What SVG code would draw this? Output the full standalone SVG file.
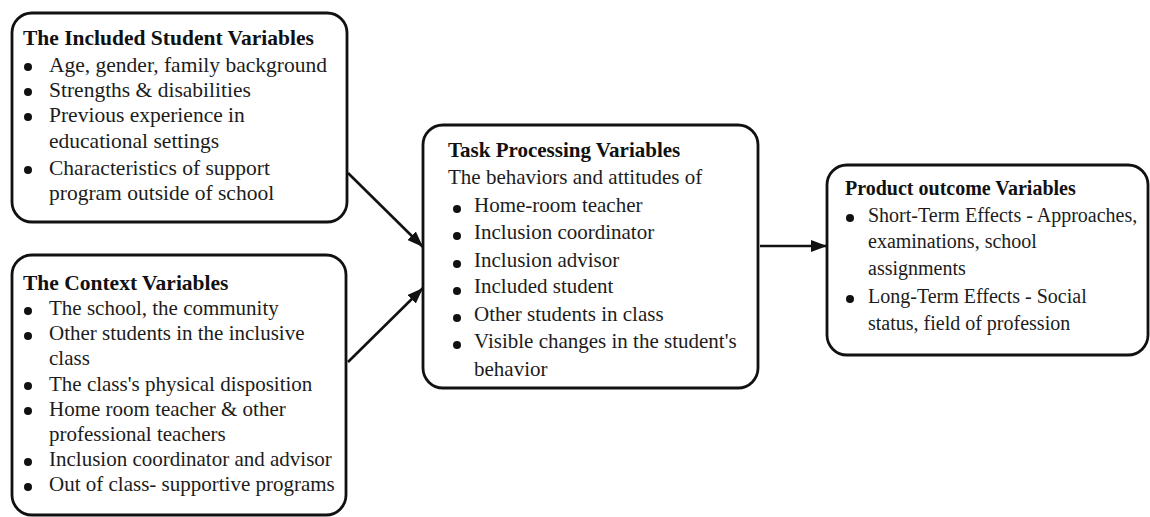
<svg xmlns="http://www.w3.org/2000/svg" width="1150" height="517" viewBox="0 0 1150 517" font-family="'Liberation Serif', 'Times New Roman', Times, 'DejaVu Serif', serif">
<style>
.box{fill:#fff;stroke:#111;stroke-width:2.8}
text{font-family:'Liberation Serif','Times New Roman',Times,'DejaVu Serif',serif;fill:#1c1c1c}
.t{font-weight:bold;fill:#111}
.l{font-size:21.5px}
.k{font-size:21px}
.m{font-size:21px}
.r{font-size:20px}
.b{fill:#111}
.c{stroke:#111;stroke-width:2.6;fill:none}
</style>
<defs>
<marker id="ah" viewBox="0 0 16 12" refX="16" refY="6" markerWidth="16" markerHeight="12" markerUnits="userSpaceOnUse" orient="auto">
<path d="M0,0 L16,6 L0,12 z" fill="#111"/>
</marker>
</defs>
<rect width="1150" height="517" fill="#fff"/>
<g id="connectors">
<line class="c" x1="348" y1="173" x2="423" y2="247" marker-end="url(#ah)"/>
<line class="c" x1="348" y1="362" x2="423" y2="288" marker-end="url(#ah)"/>
<line class="c" x1="760" y1="246" x2="827" y2="246" marker-end="url(#ah)"/>
</g>
<g id="included-student">
<rect class="box" x="12" y="13" width="335" height="209" rx="20"/>
<text class="t l" x="23" y="45">The Included Student Variables</text>
<circle class="b" cx="28" cy="67" r="4"/>
<circle class="b" cx="28" cy="92" r="4"/>
<circle class="b" cx="28" cy="117" r="4"/>
<circle class="b" cx="28" cy="170" r="4"/>
<text class="l" x="49" y="72">Age, gender, family background</text>
<text class="l" x="49" y="97">Strengths &amp; disabilities</text>
<text class="l" x="49" y="122">Previous experience in</text>
<text class="l" x="49" y="148">educational settings</text>
<text class="l" x="49" y="175">Characteristics of support</text>
<text class="l" x="49" y="200">program outside of school</text>
</g>
<g id="context">
<rect class="box" x="12" y="255" width="334" height="260" rx="20"/>
<text class="t l" x="23" y="290">The Context Variables</text>
<circle class="b" cx="28" cy="311" r="4"/>
<circle class="b" cx="28" cy="336" r="4"/>
<circle class="b" cx="28" cy="386" r="4"/>
<circle class="b" cx="28" cy="411" r="4"/>
<circle class="b" cx="28" cy="462" r="4"/>
<circle class="b" cx="28" cy="487" r="4"/>
<text class="k" x="49" y="315">The school, the community</text>
<text class="k" x="49" y="340">Other students in the inclusive</text>
<text class="k" x="49" y="365">class</text>
<text class="k" x="49" y="391">The class's physical disposition</text>
<text class="k" x="49" y="416">Home room teacher &amp; other</text>
<text class="k" x="49" y="441">professional teachers</text>
<text class="k" x="49" y="466">Inclusion coordinator and advisor</text>
<text class="k" x="49" y="491">Out of class- supportive programs</text>
</g>
<g id="task-processing">
<rect class="box" x="423" y="125" width="335" height="263" rx="20"/>
<text class="t m" x="448" y="157">Task Processing Variables</text>
<text class="m" x="448" y="184">The behaviors and attitudes of</text>
<circle class="b" cx="457" cy="209" r="4"/>
<circle class="b" cx="457" cy="236" r="4"/>
<circle class="b" cx="457" cy="264" r="4"/>
<circle class="b" cx="457" cy="291" r="4"/>
<circle class="b" cx="457" cy="318" r="4"/>
<circle class="b" cx="457" cy="345" r="4"/>
<text class="m" x="474" y="212">Home-room teacher</text>
<text class="m" x="474" y="239">Inclusion coordinator</text>
<text class="m" x="474" y="267">Inclusion advisor</text>
<text class="m" x="474" y="293">Included student</text>
<text class="m" x="474" y="321">Other students in class</text>
<text class="m" x="474" y="348">Visible changes in the student's</text>
<text class="m" x="474" y="376">behavior</text>
</g>
<g id="product-outcome">
<rect class="box" x="827" y="165" width="321" height="190" rx="20"/>
<text class="t r" x="845" y="195">Product outcome Variables</text>
<circle class="b" cx="850" cy="218" r="4"/>
<circle class="b" cx="850" cy="299" r="4"/>
<text class="r" x="868" y="222">Short-Term Effects - Approaches,</text>
<text class="r" x="868" y="248">examinations, school</text>
<text class="r" x="868" y="275">assignments</text>
<text class="r" x="868" y="303">Long-Term Effects - Social</text>
<text class="r" x="868" y="330">status, field of profession</text>
</g>
</svg>
